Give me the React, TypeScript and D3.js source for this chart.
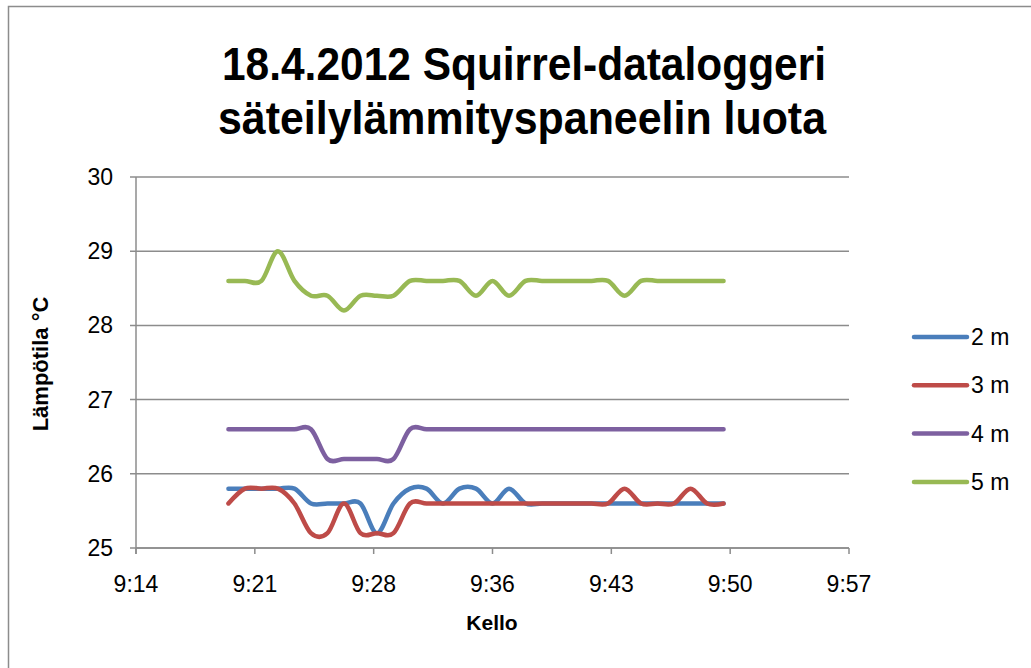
import React from "react";
import * as d3 from "d3";

const times = [
  "9:20","9:21","9:22","9:23","9:24","9:25","9:26","9:27","9:28","9:29",
  "9:30","9:31","9:32","9:33","9:34","9:35","9:36","9:37","9:38","9:39",
  "9:40","9:41","9:42","9:43","9:44","9:45","9:46","9:47","9:48","9:49","9:50",
];

const s2m = [25.8,25.8,25.8,25.8,25.8,25.6,25.6,25.6,25.6,25.2,25.6,25.8,25.8,25.6,25.8,25.8,25.6,25.8,25.6,25.6,25.6,25.6,25.6,25.6,25.6,25.6,25.6,25.6,25.6,25.6,25.6];
const s3m = [25.6,25.8,25.8,25.8,25.6,25.2,25.2,25.6,25.2,25.2,25.2,25.6,25.6,25.6,25.6,25.6,25.6,25.6,25.6,25.6,25.6,25.6,25.6,25.6,25.8,25.6,25.6,25.6,25.8,25.6,25.6];
const s4m = [26.6,26.6,26.6,26.6,26.6,26.6,26.2,26.2,26.2,26.2,26.2,26.6,26.6,26.6,26.6,26.6,26.6,26.6,26.6,26.6,26.6,26.6,26.6,26.6,26.6,26.6,26.6,26.6,26.6,26.6,26.6];
const s5m = [28.6,28.6,28.6,29.0,28.6,28.4,28.4,28.2,28.4,28.4,28.4,28.6,28.6,28.6,28.6,28.4,28.6,28.4,28.6,28.6,28.6,28.6,28.6,28.6,28.4,28.6,28.6,28.6,28.6,28.6,28.6];

const seriesNames = ["2 m", "3 m", "4 m", "5 m"];
const seriesValues = [s2m, s3m, s4m, s5m];
const seriesColors = ["#4A7EBB", "#BE4B48", "#7D60A0", "#98B954"];

const xTickLabels = ["9:14", "9:21", "9:28", "9:36", "9:43", "9:50", "9:57"];
const yTicks = [25, 26, 27, 28, 29, 30];

const titleLines = ["18.4.2012 Squirrel-dataloggeri", "säteilylämmityspaneelin luota"];

const toMin = (t: string) => {
  const [h, m] = t.split(":").map(Number);
  return h * 60 + m;
};

export default function App() {
  const W = 1031, H = 668;
  const x = d3.scaleLinear().domain([554.4, 597.6]).range([136, 849]);
  const y = d3.scaleLinear().domain([25, 30]).range([548, 177]);
  const xTickVals = xTickLabels.map((_, i) => 554.4 + i * 7.2);
  const line = d3
    .line<number>()
    .x((_, i) => x(toMin(times[i])))
    .y((d) => y(d))
    .curve(d3.curveCardinal.tension(0));
  const font = "'Liberation Sans', Arial, sans-serif";
  const grid = "#8c8c8c";

  return (
    <svg width={W} height={H} style={{ position: "absolute", left: 0, top: 0, background: "#fff" }} fontFamily={font}>
      <rect x={0} y={0} width={W} height={H} fill="#fff" />
      <rect x={8.5} y={6.5} width={W + 40} height={H + 40} fill="#fff" stroke="#8c8c8c" strokeWidth={1.5} />
      {/* title */}
      <text x={524} y={80} textAnchor="middle" fontSize={46} fontWeight="bold" textLength={604} lengthAdjust="spacingAndGlyphs">
        {titleLines[0]}
      </text>
      <text x={522} y={134} textAnchor="middle" fontSize={46} fontWeight="bold" textLength={608} lengthAdjust="spacingAndGlyphs">
        {titleLines[1]}
      </text>
      {/* gridlines */}
      {yTicks.map((t) => (
        <g key={t}>
          <line x1={130} x2={849} y1={y(t)} y2={y(t)} stroke={grid} strokeWidth={1.5} />
          <text x={113} y={y(t)} dy="0.35em" textAnchor="end" fontSize={23} fill="#000">
            {t}
          </text>
        </g>
      ))}
      <line x1={136} x2={136} y1={177} y2={554} stroke={grid} strokeWidth={1.5} />
      <line x1={136} x2={849} y1={548} y2={548} stroke={grid} strokeWidth={1.5} />
      {xTickVals.map((v, i) => (
        <g key={i}>
          <line x1={x(v)} x2={x(v)} y1={548} y2={554} stroke={grid} strokeWidth={1.5} />
          <text x={x(v)} y={592} textAnchor="middle" fontSize={23} fill="#000">
            {xTickLabels[i]}
          </text>
        </g>
      ))}
      {/* axis titles */}
      <text x={492} y={630} textAnchor="middle" fontSize={21} fontWeight="bold">
        Kello
      </text>
      <text transform="translate(48,364) rotate(-90)" textAnchor="middle" fontSize={22} fontWeight="bold">
        Lämpötila °C
      </text>
      {/* series */}
      {seriesValues.map((vals, i) => (
        <path
          key={seriesNames[i]}
          d={line(vals) || ""}
          fill="none"
          stroke={seriesColors[i]}
          strokeWidth={4.5}
          strokeLinecap="round"
          strokeLinejoin="round"
        />
      ))}
      {/* legend */}
      {seriesNames.map((n, i) => (
        <g key={n} transform={`translate(0, ${337 + i * 48.3})`}>
          <line x1={914} x2={967} y1={0} y2={0} stroke={seriesColors[i]} strokeWidth={4.5} strokeLinecap="round" />
          <text x={971} y={0} dy="0.35em" fontSize={23} fill="#000">
            {n}
          </text>
        </g>
      ))}
    </svg>
  );
}
